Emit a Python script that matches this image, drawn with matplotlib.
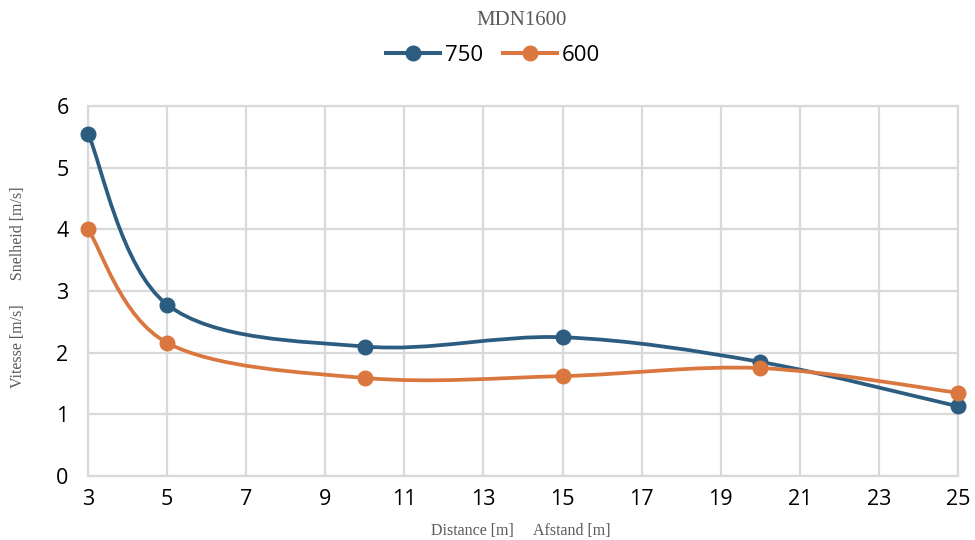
import numpy as np
import matplotlib
matplotlib.use("Agg")
import matplotlib.pyplot as plt
from matplotlib.path import Path
from matplotlib.patches import PathPatch
from matplotlib.lines import Line2D

# data
distance = [3, 5, 10, 15, 20, 25]
v750 = [5.55, 2.78, 2.10, 2.25, 1.85, 1.13]
v600 = [4.00, 2.16, 1.59, 1.62, 1.75, 1.35]
series_names = ["750", "600"]
colors = ["#2c5d80", "#d9773f"]
xticks = list(range(3, 26, 2))
yticks = list(range(0, 7))


def smooth_path(x, y):
    # Excel-style smoothed line: bezier segments through the points
    p = np.column_stack([x, y]).astype(float)
    pp = np.vstack([p[0], p, p[-1]])
    verts = [tuple(p[0])]
    codes = [Path.MOVETO]
    for i in range(1, len(pp) - 2):
        c1 = pp[i] + (pp[i + 1] - pp[i - 1]) / 6
        c2 = pp[i + 1] - (pp[i + 2] - pp[i]) / 6
        verts += [tuple(c1), tuple(c2), tuple(pp[i + 1])]
        codes += [Path.CURVE4] * 3
    return Path(verts, codes)


plt.rcParams['font.family'] = ['Open Sans', 'DejaVu Sans']
fig = plt.figure(figsize=(9.75, 5.4), dpi=100)
ax = fig.add_axes([0.0903, 0.1185, 0.8923, 0.6852])

grid_c = "#d9d9d9"
ax.set_xlim(3, 25)
ax.set_ylim(0, 6)
ax.set_xticks(xticks)
ax.set_yticks(yticks)
ax.grid(True, color=grid_c, linewidth=1.6)
ax.set_axisbelow(True)
for s in ax.spines.values():
    s.set_color(grid_c)
    s.set_linewidth(1.6)
ax.tick_params(length=0, labelsize=15.5, pad=9)
ax.tick_params(axis="y", pad=14)

handles = []
for vals, name, c in zip([v750, v600], series_names, colors):
    ax.add_patch(PathPatch(smooth_path(distance, vals), facecolor="none",
                           edgecolor=c, linewidth=2.7, capstyle="round", zorder=3))
    ax.plot(distance, vals, linestyle="none", marker="o", markersize=10.5,
            color=c, zorder=4, clip_on=False)
    handles.append(Line2D([], [], color=c, linewidth=2.9, marker="o", markersize=10.5))

fig.text(0.535, 0.962, "MDN1600", ha="center", va="center", fontsize=15,
         family="Liberation Serif", color="#595959")
fig.legend(handles, series_names, loc="center", bbox_to_anchor=(0.506, 0.898),
           ncol=2, frameon=False, fontsize=16, handlelength=2.4,
           columnspacing=0.9, handletextpad=0.25)

fig.text(0.534, 0.016, "Distance [m]     Afstand [m]", ha="center", va="center",
         fontsize=11.5, family="Liberation Serif", color="#595959")
fig.text(0.018, 0.468, "Vitesse [m/s]      Snelheid [m/s]", ha="center", va="center",
         rotation=90, fontsize=11.5, family="Liberation Serif", color="#595959")

fig.savefig("out.png", dpi=100)
